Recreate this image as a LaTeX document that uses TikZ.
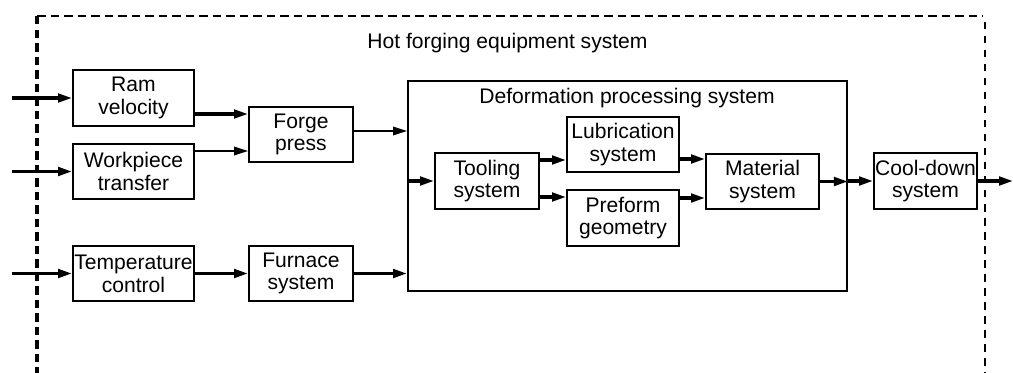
\documentclass[tikz,border=0pt]{standalone}
\usepackage{fontspec}
\setmainfont{Liberation Sans}
\usetikzlibrary{arrows.meta,positioning,calc}

\begin{document}
\begin{tikzpicture}[
    font=\fontsize{12}{13}\selectfont,
    block/.style={rectangle, draw, line width=1.1pt, inner sep=0pt, align=center, minimum width=2.08cm, minimum height=1.11cm},
    arrow/.style={-{Triangle[length=2.8mm,width=1.7mm]}, line width=1.8pt},
    thinarrow/.style={-{Triangle[length=2.8mm,width=1.7mm]}, line width=1.1pt},
    frame/.style={dash pattern=on 0.17cm off 0.1cm, line width=1.2pt}
]
\useasboundingbox (0,0) rectangle (20.26,7.44);

% Equipment boundary
\draw[frame] (0.74,7.12) -- (19.66,7.12);
\draw[frame, line width=1.8pt] (0.74,7.12) -- (0.74,-0.1);
\draw[frame, line width=1pt, dash pattern=on 0.15cm off 0.13cm] (19.70,7.0) -- (19.70,-0.1);
\node (title) at (10.15,6.58) {Hot forging equipment system};

% Free ends
\coordinate (in) at (0.24,0);
\coordinate (out) at (20.26,0);

% Equipment
\node[block, minimum width=2.42cm, minimum height=1.12cm] (ram) at (2.67,5.48) {Ram\\velocity};
\node[block, minimum width=2.42cm] (work) at (2.67,4.01) {Workpiece\\transfer};
\node[block, minimum width=2.42cm] (temp) at (2.67,1.97) {Temperature\\control};
\node[block] (forge) at (6.02,4.75) {Forge\\press};
\node[block] (furnace) at (6.02,1.97) {Furnace\\system};

% Deformation processing
\node[block, minimum width=8.78cm, minimum height=4.2cm] (defo) at (12.55,3.72) {};
\node (defotitle) at (12.54,5.48) {Deformation processing system};
\node[block, minimum height=1.12cm] (tooling) at (9.74,3.82) {Tooling\\system};
\node[block, minimum width=2.24cm] (lub) at (12.46,4.55) {Lubrication\\system};
\node[block, minimum width=2.24cm, minimum height=1.12cm] (preform) at (12.46,3.08) {Preform\\geometry};
\node[block, minimum width=2.26cm] (material) at (15.25,3.81) {Material\\system};
\node[block, minimum width=2.06cm, minimum height=1.12cm] (cool) at (18.51,3.82) {Cool-down\\system};

% Inputs
\draw[arrow] (in |- ram.west) -- (ram.west);
\draw[arrow] (in |- work.west) -- (work.west);
\draw[arrow] (in |- temp.west) -- (temp.west);

% Flow
\draw[arrow] ([yshift=-0.32cm]ram.east) -- ([yshift=-0.32cm]ram.east -| forge.west);
\draw[thinarrow] ([yshift=0.41cm]work.east) -- ([yshift=0.41cm]work.east -| forge.west);
\draw[arrow] (temp.east) -- (temp.east -| furnace.west);
\draw[thinarrow] ([yshift=0.07cm]forge.east) -- ([yshift=0.07cm]forge.east -| defo.west);
\draw[arrow] (furnace.east) -- (furnace.east -| defo.west);
\draw[arrow] (tooling.west -| defo.west) -- (tooling.west);
\draw[arrow] ([yshift=0.42cm]tooling.east) -- ([yshift=0.42cm]tooling.east -| lub.west);
\draw[arrow] ([yshift=-0.32cm]tooling.east) -- ([yshift=-0.32cm]tooling.east -| preform.west);
\draw[arrow] ([yshift=-0.29cm]lub.east) -- ([yshift=-0.29cm]lub.east -| material.west);
\draw[arrow] ([yshift=0.40cm]preform.east) -- ([yshift=0.40cm]preform.east -| material.west);
\draw[arrow] (material.east) -- (material.east -| defo.east);
\draw[arrow] (cool.west -| defo.east) -- (cool.west);
\draw[arrow] (cool.east) -- (cool.east -| out);

\end{tikzpicture}
\end{document}
